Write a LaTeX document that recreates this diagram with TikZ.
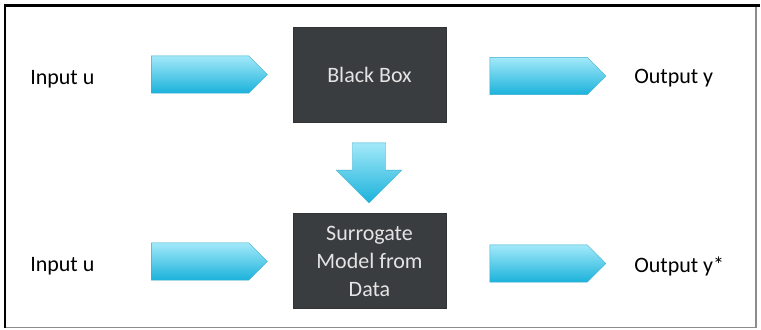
\documentclass[tikz,border=0pt]{standalone}
\usepackage{fontspec}
\setmainfont{Carlito}
\usetikzlibrary{shapes.symbols,shapes.arrows}

\definecolor{boxgray}{HTML}{3A3D3F}
\definecolor{boxtext}{HTML}{E4E4E4}
\definecolor{arrowtop}{HTML}{A3E9F9}
\definecolor{arrowbot}{HTML}{1BB2DB}
\definecolor{arrowline}{HTML}{3AAFD0}

\tikzset{
  label text/.style={anchor=west, inner sep=0pt, font=\fontsize{16.5}{20}\selectfont},
  black box/.style={fill=boxgray, draw=black!80, line width=0.4pt, text=boxtext,
    minimum width=114.75pt, minimum height=71.5pt, align=center,
    font=\fontsize{16.5}{21}\selectfont},
  side arrow/.style={signal, signal to=east, inner sep=0pt,
    minimum width=87pt, minimum height=28pt,
    top color=arrowtop, bottom color=arrowbot, draw=arrowline, line width=0.3pt},
  down arrow/.style={single arrow, shape border rotate=270, inner sep=12.4pt,
    minimum height=45pt, single arrow head extend=12pt,
    single arrow head indent=0pt,
    top color=arrowtop, bottom color=arrowbot, draw=arrowline, line width=0.3pt}
}

\begin{document}
\begin{tikzpicture}[x=0.75pt,y=0.75pt,yscale=-1,xscale=1]
\useasboundingbox (0,0) rectangle (761,329);

%Frame
\draw [color=black!45, line width=0.9pt] (756,5.5) -- (756,327.5) -- (5,327.5) ;
\draw [line width=1.6pt] (5,327.5) -- (5,5.5) -- (760,5.5) ;

%Boxes
\node [black box] (blackbox) at (369.5,74.5) {Black Box};
\node [black box] (surrogate) at (369.5,261) {Surrogate\\Model from\\Data};

%Block arrows
\node [side arrow] (inA) at (200,74.5) {};
\node [side arrow] (outA) at (538.5,76) {};
\node [side arrow] (inB) at (200,261.5) {};
\node [side arrow] (outB) at (538.5,263.5) {};
\node [down arrow] (learn) at (369,164.5) {};

% Text Node
\node [label text] (inputA) at (30,79) {Input u};
% Text Node
\node [label text] (outputA) at (634,78) {Output y};
% Text Node
\node [label text] (inputB) at (30,266) {Input u};
% Text Node
\node [label text] (outputB) at (634,266) {Output y*};

\end{tikzpicture}
\end{document}
